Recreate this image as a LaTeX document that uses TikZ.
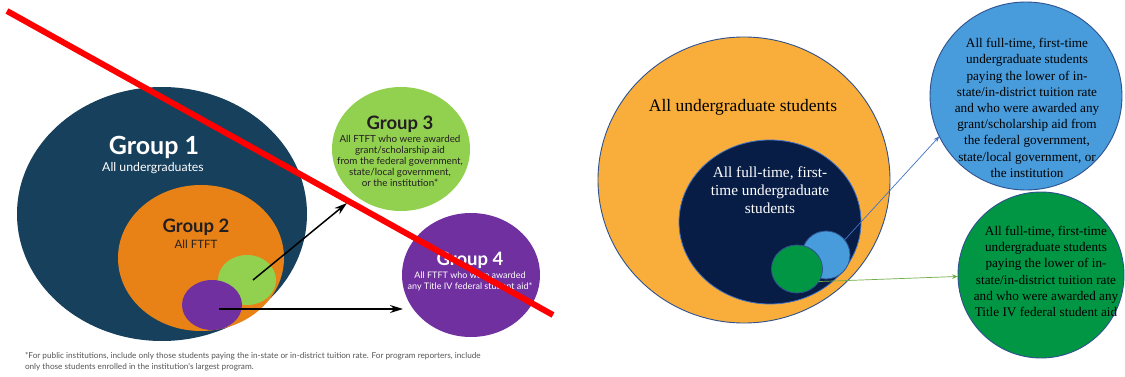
\documentclass[tikz,border=0pt]{standalone}
\usepackage{fontspec}
\setmainfont{Liberation Serif}
\newfontfamily\grpfont{Lato}
\usetikzlibrary{shapes.geometric,arrows.meta}

\begin{document}
\begin{tikzpicture}[x=1pt,y=-1pt,
  blob/.style={ellipse,inner sep=0pt,outer sep=0pt},
  oldtext/.style={inner sep=0pt,outer sep=0pt,align=center},
  newtext/.style={inner sep=0pt,outer sep=0pt,align=center},
  oldarrow/.style={draw=black,line width=1.5pt,-{Stealth[length=13pt,width=8pt]}},
  newline/.style={line width=0.7pt,-{Stealth[length=6pt,width=4.5pt]}}]
\definecolor{grpOneColor}{RGB}{23,64,92}
\definecolor{grpTwoColor}{RGB}{232,130,22}
\definecolor{grpThreeColor}{RGB}{146,208,80}
\definecolor{grpFourColor}{RGB}{112,48,160}
\definecolor{inkColor}{RGB}{35,31,32}
\definecolor{noteColor}{RGB}{85,85,85}
\definecolor{allColor}{RGB}{249,174,59}
\definecolor{ftftColor}{RGB}{7,29,70}
\definecolor{grantColor}{RGB}{72,156,219}
\definecolor{titleColor}{RGB}{0,150,68}
\definecolor{rimColor}{RGB}{47,82,143}
\definecolor{blueLine}{RGB}{68,114,196}
\definecolor{greenLine}{RGB}{112,173,71}
\path[use as bounding box,fill=white] (0,0) rectangle (1125,377);

\node[blob,fill=grpOneColor,minimum width=290pt,minimum height=254pt] (grpOne) at (162,214) {};
\node[blob,fill=grpTwoColor,minimum width=166pt,minimum height=146pt] (grpTwo) at (201,258) {};
\node[blob,fill=grpThreeColor,minimum width=58pt,minimum height=50pt] (grpThreeSmall) at (247,280) {};
\node[blob,fill=grpFourColor,minimum width=60pt,minimum height=50pt] (grpFourSmall) at (212,305) {};
\node[blob,fill=grpThreeColor,minimum width=138pt,minimum height=124pt] (grpThree) at (401,149) {};
\node[blob,fill=grpFourColor,minimum width=138pt,minimum height=124pt] (grpFour) at (471,275) {};

\node[oldtext,text=white,font=\grpfont\bfseries\fontsize{25}{25}\selectfont] (grpOneTitle) at (154,147) {Group 1};
\node[oldtext,text=white,font=\grpfont\fontsize{12.3}{12}\selectfont] (grpOneSub) at (153,168) {All undergraduates};
\node[oldtext,text=inkColor,font=\grpfont\bfseries\fontsize{18.5}{18.5}\selectfont] (grpTwoTitle) at (196,227) {Group 2};
\node[oldtext,text=inkColor,font=\grpfont\fontsize{11.5}{11.5}\selectfont] (grpTwoSub) at (196,244) {All FTFT};
\node[oldtext,text=inkColor,font=\grpfont\bfseries\fontsize{18.5}{18.5}\selectfont] (grpThreeTitle) at (400,124) {Group 3};
\node[oldtext,text=inkColor,font=\grpfont\fontsize{9.8}{11}\selectfont] (grpThreeSub) at (400,161)
  {All FTFT who were awarded\\grant/scholarship aid\\from the federal government,\\state/local government,\\or the institution*};
\node[oldtext,text=white,font=\grpfont\bfseries\fontsize{18.5}{18.5}\selectfont] (grpFourTitle) at (470,260) {Group 4};
\node[oldtext,text=white,font=\grpfont\fontsize{9}{11}\selectfont] (grpFourSub) at (470,281.5)
  {All FTFT who were awarded\\any Title IV federal student aid*};
\node[oldtext,align=left,anchor=north west,text=noteColor,font=\grpfont\fontsize{8.2}{11}\selectfont] (footNote) at (25,352.5)
  {*For public institutions, include only those students paying the in-state or in-district tuition rate. For program reporters, include\\only those students enrolled in the institution's largest program.};

\coordinate (grpThreeTip) at (347,203);
\coordinate (grpFourTip) at (403,309);
\draw[oldarrow] ([xshift=6pt]grpThreeSmall.center) -- (grpThreeTip);
\draw[oldarrow] ([xshift=7pt,yshift=-4pt]grpFourSmall.center) -- (grpFourTip);

\coordinate (crossStart) at (7,11);
\coordinate (crossEnd) at (553,315);
\draw[red,line width=6pt] (crossStart) -- (crossEnd);

\node[blob,fill=allColor,draw=rimColor,line width=0.9pt,minimum width=292pt,minimum height=286pt] (allUg) at (744,180) {};
\node[blob,fill=ftftColor,draw=blueLine,line width=0.8pt,minimum width=182pt,minimum height=164pt] (allFtft) at (770,222) {};
\node[blob,fill=grantColor,draw=rimColor,line width=0.8pt,minimum width=48pt,minimum height=48pt] (grantSmall) at (826,255) {};
\node[blob,fill=titleColor,draw=rimColor,line width=0.8pt,minimum width=51pt,minimum height=48pt] (titleSmall) at (797,269) {};
\node[blob,fill=grantColor,draw=rimColor,line width=0.9pt,minimum width=192pt,minimum height=188pt] (grantBig) at (1026,96) {};
\node[blob,fill=titleColor,draw=rimColor,line width=0.9pt,minimum width=166pt,minimum height=166pt] (titleBig) at (1041,275) {};

\node[newtext,font=\fontsize{17.5}{20}\selectfont] (allUgText) at (743,107) {All undergraduate students};
\node[newtext,text=white,font=\fontsize{15.3}{18}\selectfont] (allFtftText) at (770,190)
  {All full-time, first-\\time undergraduate\\students};
\node[newtext,font=\fontsize{13.2}{16.2}\selectfont] (grantText) at (1027,108)
  {All full-time, first-time\\undergraduate students\\paying the lower of in-\\state/in-district tuition rate\\and who were awarded any\\grant/scholarship aid from\\the federal government,\\state/local government, or\\the institution};
\node[newtext,font=\fontsize{13.2}{16.2}\selectfont] (titleText) at (1046,271.5)
  {All full-time, first-time\\undergraduate students\\paying the lower of in-\\state/in-district tuition rate\\and who were awarded any\\Title IV federal student aid};

\draw[newline,blueLine] (grantSmall.39) -- (grantBig.205);
\draw[newline,greenLine] (titleSmall.-30) -- (titleBig.181);
\end{tikzpicture}
\end{document}
